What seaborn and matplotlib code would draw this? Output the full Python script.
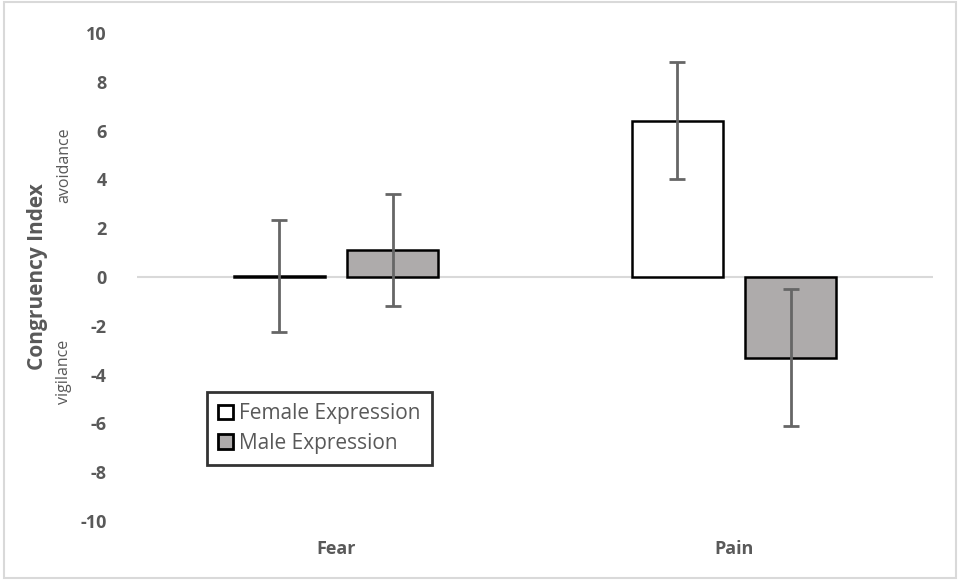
import pandas as pd
import seaborn as sns
import matplotlib.pyplot as plt
import numpy as np

# Data
emotions = ['Fear', 'Pain']
expressions = ['Female Expression', 'Male Expression']
female_means = [0.05, 6.4]
male_means = [1.1, -3.3]
female_err = [2.3, 2.4]
male_err = [2.3, 2.8]

df = pd.DataFrame({
    'emotion': emotions * 2,
    'expression': [expressions[0]] * 2 + [expressions[1]] * 2,
    'index': female_means + male_means,
    'err': female_err + male_err,
})

sns.set_style('white')
plt.rcParams['font.family'] = ['Open Sans', 'DejaVu Sans']
plt.rcParams['axes.unicode_minus'] = False

text_col = '#595959'

fig = plt.figure(figsize=(9.6, 5.8), dpi=100)
ax = fig.add_axes([137 / 960, 1 - 521 / 580, (933 - 137) / 960, (521 - 33) / 580])

# Draw the bars
sns.barplot(data=df, x='emotion', y='index', hue='expression', order=emotions,
            hue_order=expressions, palette=['white', '#aeaaaa'], width=0.57,
            gap=0.2, edgecolor='black', linewidth=1.8, errorbar=None, ax=ax,
            zorder=3)

# Error bars at the bar centres
for cont, errs in zip(ax.containers, [female_err, male_err]):
    xs = [p.get_x() + p.get_width() / 2 for p in cont.patches]
    ys = cont.datavalues
    ax.errorbar(xs, ys, yerr=errs, fmt='none', ecolor='#666666', elinewidth=2,
                capsize=6, capthick=2, zorder=4)

ax.axhline(0, color='#d9d9d9', lw=1.5, zorder=2)
ax.set_ylim(-10, 10)
ax.set_xlim(-0.5, 1.5)
ax.set_yticks(range(-10, 11, 2))
ax.tick_params(axis='both', length=0, labelsize=13, colors=text_col)
ax.tick_params(axis='y', pad=22)
ax.tick_params(axis='x', pad=14)
for lab in ax.get_xticklabels() + ax.get_yticklabels():
    lab.set_fontweight('bold')
sns.despine(ax=ax, left=True, bottom=True)
ax.set_xlabel('')
ax.set_ylabel('')

# Axis titles
fig.text(38 / 960, 1 - 277 / 580, 'Congruency Index', rotation=90, ha='center',
         va='center', fontsize=15, fontweight='bold', color=text_col)
fig.text(64 / 960, 1 - 165 / 580, 'avoidance', rotation=90, ha='center',
         va='center', fontsize=11.5, color=text_col)
fig.text(64 / 960, 1 - 372 / 580, 'vigilance', rotation=90, ha='center',
         va='center', fontsize=11.5, color=text_col)

# Legend
leg = ax.legend(loc='upper left', bbox_to_anchor=((207 - 137) / 796, 1 - (392 - 33) / 488),
                frameon=True, fancybox=False, fontsize=15, handlelength=0.7,
                handleheight=0.7, handletextpad=0.3, borderpad=0.55,
                labelspacing=0.4, borderaxespad=0)
leg.get_frame().set_edgecolor('black')
leg.get_frame().set_linewidth(2)
for t in leg.get_texts():
    t.set_color(text_col)
for h in leg.legend_handles:
    h.set_linewidth(2)
leg.set_zorder(5)

# Light frame around the figure
fig.patches.append(plt.Rectangle((0.004, 0.004), 0.992, 0.992, transform=fig.transFigure,
                                 fill=False, edgecolor='#d9d9d9', lw=1.5))

fig.savefig('out.png', dpi=100)
